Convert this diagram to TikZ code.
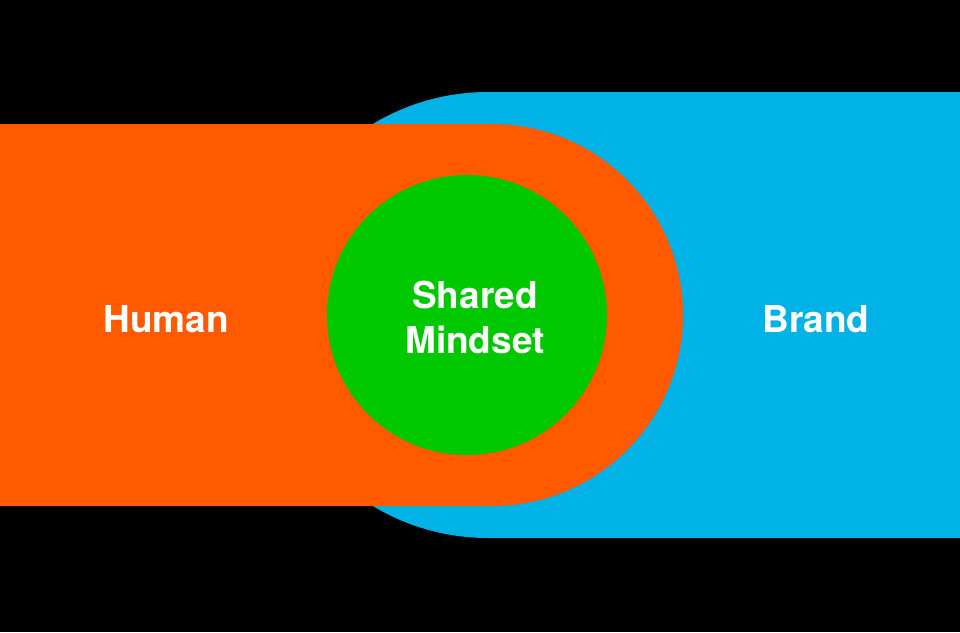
\documentclass[tikz,border=0pt]{standalone}
\usepackage{fontspec}
\setmainfont{TeX Gyre Heros}
\definecolor{bgblack}{HTML}{000000}
\definecolor{brandblue}{HTML}{00B2E6}
\definecolor{humanorange}{HTML}{FF5A00}
\definecolor{mindgreen}{HTML}{00C800}
\tikzset{
  lbl/.style={text=white, font=\fontsize{37}{45}\selectfont\bfseries, align=center, inner sep=0pt},
}
\begin{document}
\begin{tikzpicture}[x=1pt,y=-1pt]
\fill[bgblack] (0,0) rectangle (960,632);
\useasboundingbox (0,0) rectangle (960,632);
% brand shape
\fill[brandblue] (488,92) -- (960,92) -- (960,538) -- (488,538) arc[start angle=90,end angle=270,radius=223] -- cycle;
% human shape
\fill[humanorange] (0,124) -- (492,124) arc[start angle=-90,end angle=90,radius=191] -- (0,506) -- cycle;
% shared mindset
\fill[mindgreen] (467,315) circle[radius=140];
\node[lbl, anchor=base] (human) at (166,332) {Human};
\node[lbl, anchor=base] (brand) at (816,332) {Brand};
\node[lbl, anchor=base] (shared) at (475,308) {Shared};
\node[lbl, anchor=base] (mind) at (475,353) {Mindset};
\end{tikzpicture}
\end{document}
